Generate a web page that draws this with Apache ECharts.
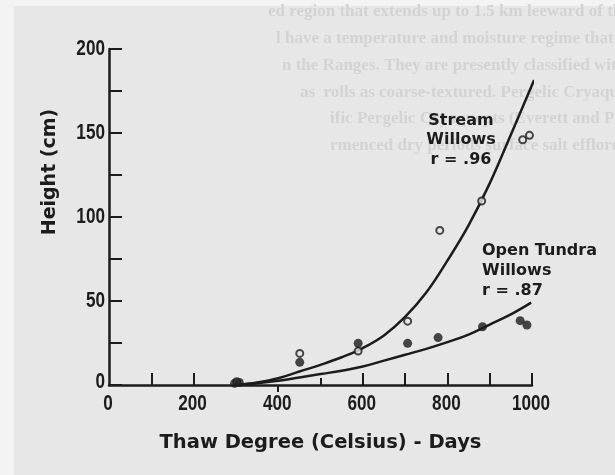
<!DOCTYPE html>
<html>
<head>
<meta charset="utf-8">
<script src="https://cdn.jsdelivr.net/npm/echarts@6/dist/echarts.min.js"></script>
<style>
  html, body { margin: 0; padding: 0; background: #f3f3f3; }
  #chart { width: 615px; height: 475px; }
</style>
</head>
<body>
<div id="chart"></div>
<script>
// Willow height vs. thaw degree-days: stream willows (open) and open tundra willows (filled)
const streamDays   = [302, 451, 589, 706, 782, 881, 978, 994];
const streamHeight = [2, 18.8, 20.2, 38, 92, 109.5, 146, 148.6];

const tundraDays   = [297, 308, 451, 589, 706, 778, 883, 972, 988];
const tundraHeight = [1, 1.5, 13.5, 24.8, 24.8, 28.2, 34.7, 38.3, 35.7];

// fitted curves, traced point by point
const streamCurveDays   = [300, 350, 400, 450, 500, 550, 600, 650, 700, 750, 800, 850, 900, 950, 1005];
const streamCurveHeight = [0, 1.5, 4, 8, 12, 16.5, 22, 29.5, 40.5, 55, 74, 95, 120, 149, 181.5];

const tundraCurveDays   = [300, 350, 400, 450, 500, 550, 600, 650, 700, 750, 800, 850, 900, 950, 998];
const tundraCurveHeight = [0, 1, 2.5, 4.5, 6.5, 8.5, 11, 14.5, 18, 21.5, 25.5, 30, 36, 42, 49];

const xTicks = [0, 200, 400, 600, 800, 1000];
const yTicks = [0, 50, 100, 150, 200];

const ink = '#1c1c1c';
const paper = '#e7e7e7';
const numFont = 'bold 22px "Liberation Sans", Arial, sans-serif';
const titleFont = '"DejaVu Sans", "Liberation Sans", sans-serif';

const pair = (xs, ys) => xs.map((x, i) => [x, ys[i]]);

// faint print from the facing page
const ghostLines = [
  ['ed region that extends up to 1.5 km leeward of th', 268, 12],
  ['l have a temperature and moisture regime that a', 276, 39],
  ['n the Ranges. They are presently classified with', 282, 66],
  ['as  rolls as coarse-textured. Pergelic Cryaquep', 300, 93],
  ['ific Pergelic Cryaquepts (Everett and Parkins', 330, 119],
  ['rmenced dry periods surface salt efflorescence is', 330, 146]
];

const chart = echarts.init(document.getElementById('chart'), null, { renderer: 'canvas' });

const baseX = {
  type: 'value', min: 0, max: 1000, interval: 100,
  splitLine: { show: false }
};

const staticGraphics = [
  { type: 'rect', z: -10, shape: { x: 14, y: 6, width: 615, height: 475 }, style: { fill: paper } },
  ...ghostLines.map(([t, x, y]) => ({
    type: 'text', z: -5, x: x, y: y,
    style: { text: t, fill: '#d3d3d3', font: 'bold 17px "Liberation Serif", serif', verticalAlign: 'middle' }
  })),
  {
    type: 'text', x: 50, y: 172, rotation: Math.PI / 2,
    style: { text: 'Height (cm)', fill: ink, font: 'bold 19px ' + titleFont, align: 'center', verticalAlign: 'middle' }
  },
  {
    type: 'text', x: 461, y: 140,
    style: { text: 'Stream\nWillows\nr = .96', fill: ink, font: 'bold 16px ' + titleFont, align: 'center', verticalAlign: 'middle', lineHeight: 19.5 }
  },
  {
    type: 'text', x: 482, y: 271,
    style: { text: 'Open Tundra\nWillows\nr = .87', fill: ink, font: 'bold 16px ' + titleFont, align: 'left', verticalAlign: 'middle', lineHeight: 20 }
  }
];

chart.setOption({
  animation: false,
  backgroundColor: '#f3f3f3',
  grid: { left: 109, top: 49, width: 423, height: 336 },
  graphic: staticGraphics,
  xAxis: [
    Object.assign({}, baseX, {
      name: 'Thaw Degree (Celsius) - Days',
      nameLocation: 'middle', nameGap: 48,
      nameTextStyle: { color: ink, fontFamily: titleFont, fontWeight: 'bold', fontSize: 19.5 },
      axisLine: { lineStyle: { color: ink, width: 2.5 } },
      axisTick: { inside: true, length: 12, lineStyle: { color: ink, width: 2 },
                  customValues: [100, 200, 600, 700, 800, 900, 1000] },
      axisLabel: { show: false }
    }),
    Object.assign({}, baseX, {
      show: true, position: 'bottom',
      axisLine: { show: false },
      axisTick: { inside: false, length: 7, lineStyle: { color: ink, width: 2 }, customValues: [400] },
      axisLabel: { show: false }
    }),
    Object.assign({}, baseX, {
      show: true, position: 'bottom',
      axisLine: { show: false },
      axisTick: { inside: true, length: 7, lineStyle: { color: ink, width: 2 }, customValues: [500] },
      axisLabel: { show: false }
    })
  ],
  yAxis: {
    type: 'value', min: 0, max: 200, interval: 25,
    splitLine: { show: false },
    axisLine: { show: true, lineStyle: { color: ink, width: 2.5 } },
    axisTick: { show: true, inside: true, length: 13, lineStyle: { color: ink, width: 2 } },
    axisLabel: { show: false }
  },
  series: [
    {
      name: 'Stream Willows fit', type: 'line', smooth: 0.4, symbol: 'none',
      lineStyle: { color: ink, width: 2.5 },
      data: pair(streamCurveDays, streamCurveHeight)
    },
    {
      name: 'Open Tundra Willows fit', type: 'line', smooth: 0.4, symbol: 'none',
      lineStyle: { color: ink, width: 2.5 },
      data: pair(tundraCurveDays, tundraCurveHeight)
    },
    {
      name: 'Stream Willows', type: 'scatter', symbol: 'circle', symbolSize: 7,
      itemStyle: { color: paper, borderColor: ink, borderWidth: 2 },
      data: pair(streamDays, streamHeight), z: 3
    },
    {
      name: 'Open Tundra Willows', type: 'scatter', symbol: 'circle', symbolSize: 9,
      itemStyle: { color: ink },
      data: pair(tundraDays, tundraHeight), z: 4
    }
  ]
});

// Tick numbers set in a condensed face: placed through the axis scales, narrowed horizontally.
const y0 = chart.convertToPixel({ yAxisIndex: 0 }, 0);
const x0 = chart.convertToPixel({ xAxisIndex: 0 }, 0);
const tickLabels = [
  ...xTicks.map(v => ({
    type: 'text', x: chart.convertToPixel({ xAxisIndex: 0 }, v) - 1, y: y0 + 19, scaleX: 0.78,
    style: { text: String(v), fill: ink, font: numFont, align: 'center', verticalAlign: 'middle' }
  })),
  ...yTicks.map(v => ({
    type: 'text', x: x0 - 4, y: chart.convertToPixel({ yAxisIndex: 0 }, v) - (v === 0 ? 3 : 0), scaleX: 0.78,
    style: { text: String(v), fill: ink, font: numFont, align: 'right', verticalAlign: 'middle' }
  }))
];
chart.setOption({ graphic: staticGraphics.concat(tickLabels) });
</script>
</body>
</html>
